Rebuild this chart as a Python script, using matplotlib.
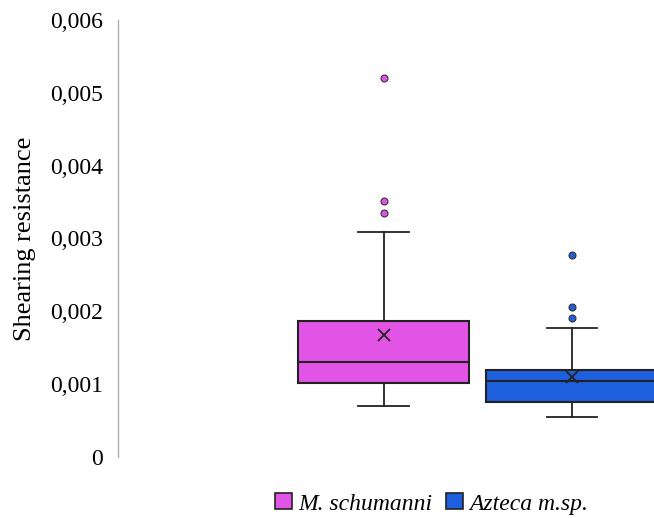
import numpy as np
import matplotlib
matplotlib.use('Agg')
import matplotlib.pyplot as plt
from matplotlib.patches import Patch
from matplotlib.ticker import FuncFormatter

# series
species = ['M. schumanni', 'Azteca m.sp.']
colors = ['#E254E6', '#1E5FDD']
q1 = [0.00101, 0.00076]
median = [0.00130, 0.00105]
q3 = [0.00187, 0.00120]
mean = [0.00167, 0.00110]
whislo = [0.00070, 0.00055]
whishi = [0.00309, 0.00177]
outliers = [[0.00521, 0.00352, 0.00335], [0.00278, 0.00206, 0.00191]]
yticks = [0, 0.001, 0.002, 0.003, 0.004, 0.005, 0.006]

positions = [0.496, 0.847]

plt.rcParams['font.family'] = ['Liberation Serif', 'DejaVu Serif']

fig = plt.figure(figsize=(6.54, 5.18), dpi=100)
ax = fig.add_axes([0.1804, 0.1178, 0.8196, 0.8436])

stats = []
for i in range(len(species)):
    stats.append({'q1': q1[i], 'med': median[i], 'q3': q3[i], 'mean': mean[i],
                  'whislo': whislo[i], 'whishi': whishi[i], 'fliers': outliers[i],
                  'label': species[i]})

for i in range(len(species)):
    ax.bxp([stats[i]], positions=[positions[i]], widths=0.319, patch_artist=True,
           showmeans=True, showcaps=True,
           boxprops=dict(facecolor=colors[i], edgecolor='#222222', linewidth=1.5),
           medianprops=dict(color='#222222', linewidth=1.5),
           whiskerprops=dict(color='#222222', linewidth=1.3),
           capprops=dict(color='#222222', linewidth=1.3),
           meanprops=dict(marker='x', markeredgecolor='#222222', markersize=9,
                          markeredgewidth=1.3),
           flierprops=dict(marker='o', markerfacecolor=colors[i],
                           markeredgecolor='#333333', markersize=5,
                           markeredgewidth=0.8),
           capwidths=0.095)

ax.set_xlim(0, 1)
ax.set_ylim(0, 0.006)
ax.set_yticks(yticks)
ax.yaxis.set_major_formatter(FuncFormatter(
    lambda v, p: '0' if v == 0 else ('%.3f' % v).replace('.', ',')))
ax.tick_params(axis='y', length=0, pad=10.8, labelsize=17)
ax.set_xticks([])
for s in ['top', 'right', 'bottom']:
    ax.spines[s].set_visible(False)
ax.spines['left'].set_color('#b0b0b0')
ax.spines['left'].set_linewidth(1.0)

ax.set_ylabel('Shearing resistance', fontsize=19)
ax.yaxis.set_label_coords(-0.153, 0.5)

handles = [Patch(facecolor=colors[i], edgecolor='#222222', linewidth=1.2,
                 label=species[i]) for i in range(len(species))]
fig.legend(handles=handles, loc='center', bbox_to_anchor=(0.66, 0.027),
           ncol=2, frameon=False, prop={'style': 'italic', 'size': 17},
           handlelength=0.72, handleheight=0.64, handletextpad=0.25,
           columnspacing=0.6, borderpad=0.2)

plt.savefig('out.png', dpi=100)
